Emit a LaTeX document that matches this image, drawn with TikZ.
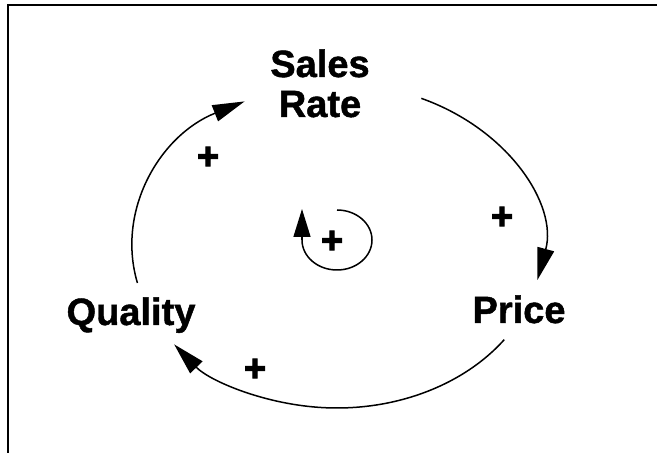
\documentclass[tikz,border=0pt]{standalone}
\usepackage{fontspec}
\setmainfont{Liberation Sans}
\newfontfamily\lblfont{Liberation Sans}[UprightFont=*-Bold, FakeBold=1.2]
\newfontfamily\plsfont{Liberation Sans}[UprightFont=*-Bold, FakeBold=2.5]
\usetikzlibrary{arrows.meta}
\begin{document}
\begin{tikzpicture}[x=1pt,y=1pt,
  lbl/.style={font=\fontsize{38}{40}\selectfont\lblfont, inner sep=0pt},
  pls/.style={font=\fontsize{38}{38}\selectfont\plsfont, inner sep=0pt},
  link/.style={line width=1.5pt, -{Triangle[length=32pt,width=17pt]}},
  frame/.style={line width=1.6pt}]
\useasboundingbox (0,0) rectangle (657,453);
% frame
\coordinate (tl) at (8,448);
\coordinate (tr) at (657,448);
\coordinate (bl) at (8,0);
\draw[frame] (tr) -- (tl) -- (bl);
% labels
\node[lbl, anchor=base] (sales) at (320,376) {Sales};
\node[lbl, anchor=base] (rate) at (320,336) {Rate};
\node[lbl, anchor=base] (price) at (519,130) {Price};
\node[lbl, anchor=base] (quality) at (131,128) {Quality};
% loop centre
\coordinate (lc) at (337,207);
\draw[link] (lc) ++(65.7:205 and 162) arc[start angle=65.7, end angle=-12.1, x radius=205, y radius=162];
\draw[link] (lc) ++(-35.3:205 and 162) arc[start angle=-35.3, end angle=-142.6, x radius=205, y radius=162];
\draw[link] (lc) ++(193.2:205 and 162) arc[start angle=193.2, end angle=116.8, x radius=205, y radius=162];
% plus signs
\node[pls] (p1) at (502,235) {+};
\node[pls] (p2) at (208,295) {+};
\node[pls] (p3) at (255,83) {+};
% central loop
\coordinate (cc) at (337,213);
\coordinate (ctip) at (302,244);
\draw[line width=1.5pt] (cc) ++(90:35 and 30) arc[start angle=90, end angle=-180, x radius=35, y radius=30] coordinate (cend);
\draw[line width=1.5pt, -{Triangle[length=28pt,width=17pt]}] (cend) -- (ctip);
\node[pls] (pc) at (332,211) {+};
\end{tikzpicture}
\end{document}
